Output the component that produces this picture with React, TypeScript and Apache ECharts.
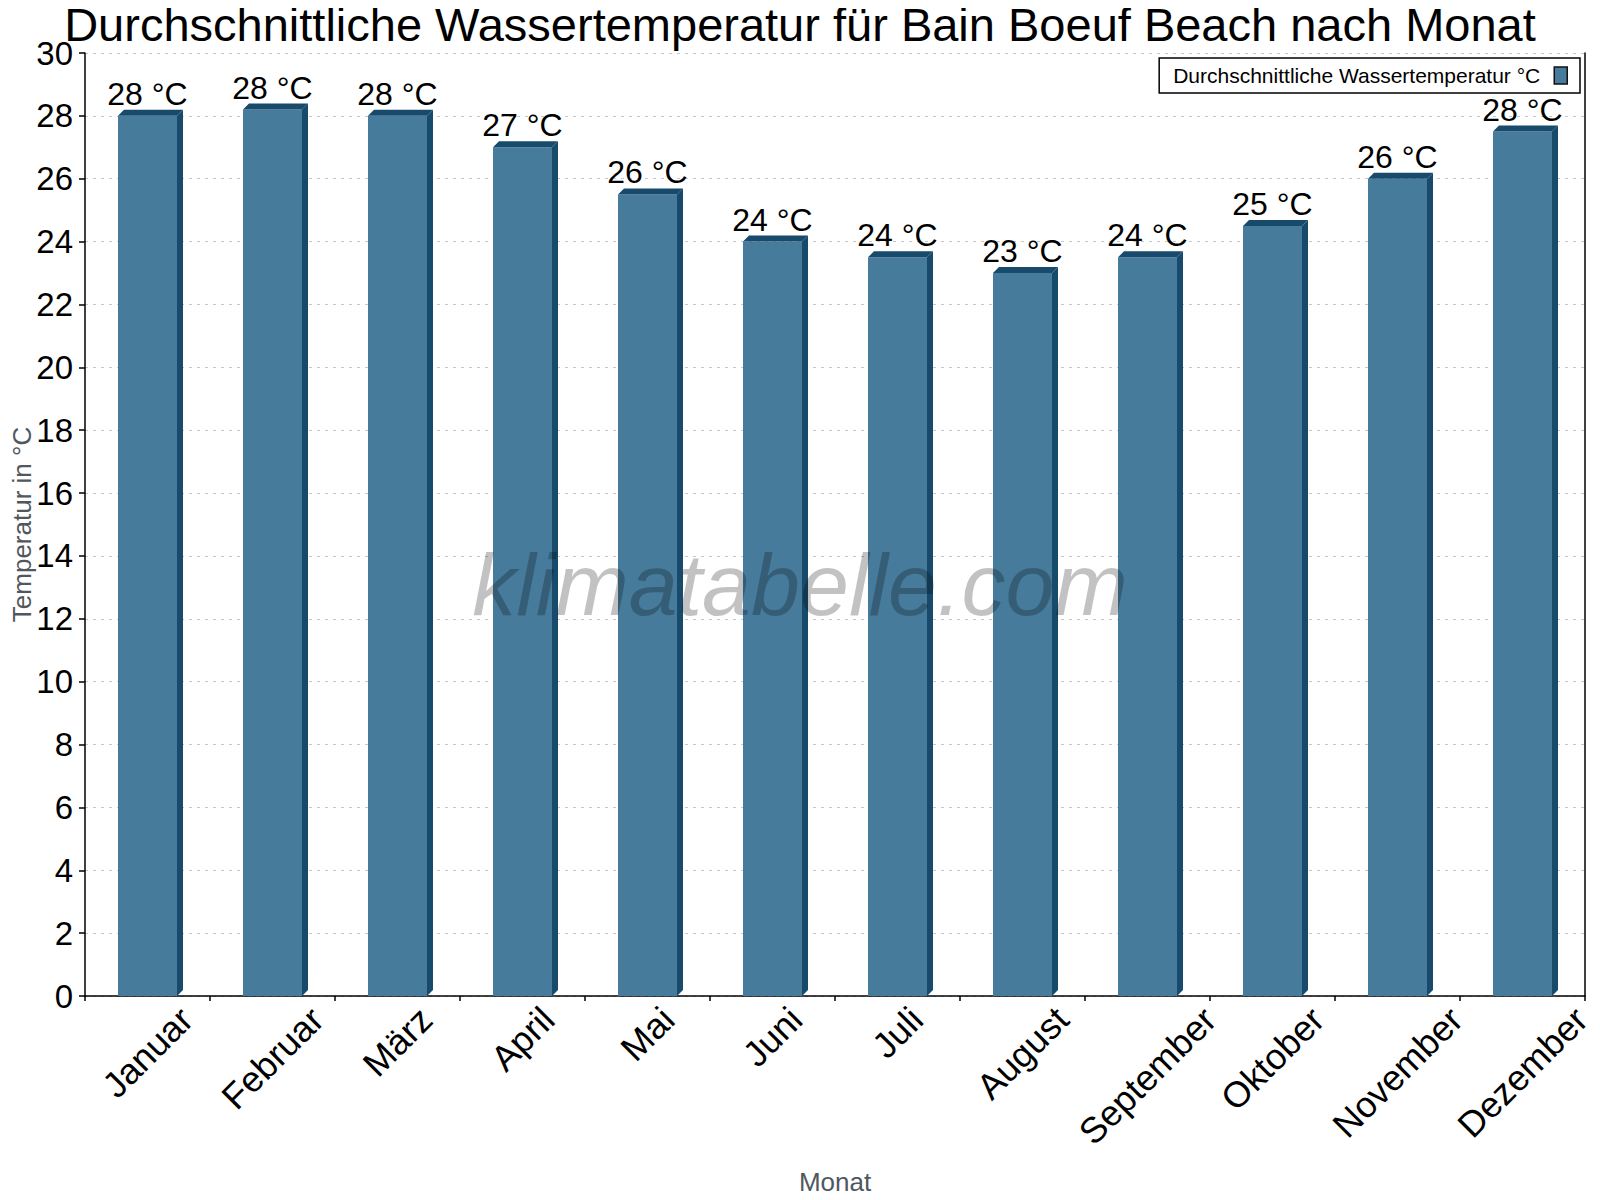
import React, { useEffect, useRef } from 'react';
import * as echarts from 'echarts';

const months = ['Januar', 'Februar', 'März', 'April', 'Mai', 'Juni', 'Juli', 'August', 'September', 'Oktober', 'November', 'Dezember'];
const waterTemp = [28, 28.2, 28, 27, 25.5, 24, 23.5, 23, 23.5, 24.5, 26, 27.5];
const yTicks = { min: 0, max: 30, interval: 2 };

const FONT = '"Liberation Sans", Arial, sans-serif';
const FRONT = '#467b9c';
const DARK = '#184a6c';
const DEPTH = 6;
const LABEL_SIZE = 36;

// Breite eines Monatsnamens, damit die gedrehten Labels oben bündig stehen
const measure = (txt: string) => {
  const ctx = document.createElement('canvas').getContext('2d');
  if (!ctx) return txt.length * LABEL_SIZE * 0.55;
  ctx.font = `${LABEL_SIZE}px ${FONT}`;
  return ctx.measureText(txt).width;
};

const App: React.FC = () => {
  const chartRef = useRef<HTMLDivElement | null>(null);

  useEffect(() => {
    if (!chartRef.current) return;
    const chart = echarts.init(chartRef.current, undefined, { renderer: 'svg' });

    const renderItem = (params: any, api: any) => {
      const idx = api.value(0);
      const val = api.value(1);
      const top = api.coord([idx, val]);
      const base = api.coord([idx, 0]);
      const w = api.size([1, 0])[0] * 0.472;
      const l = top[0] - w / 2;
      const r = top[0] + w / 2;
      const t = top[1];
      const b = base[1];
      return {
        type: 'group',
        children: [
          { type: 'rect', shape: { x: l, y: t, width: w, height: b - t }, style: { fill: FRONT } },
          {
            type: 'polygon',
            shape: { points: [[r, t], [r + DEPTH, t - DEPTH], [r + DEPTH, b - DEPTH], [r, b]] },
            style: { fill: DARK },
          },
          {
            type: 'polygon',
            shape: { points: [[l, t], [l + DEPTH, t - DEPTH], [r + DEPTH, t - DEPTH], [r, t]] },
            style: { fill: DARK },
          },
          {
            type: 'text',
            x: top[0],
            y: t - DEPTH,
            style: {
              text: `${Math.round(val)} °C`,
              fill: '#000',
              font: `32px ${FONT}`,
              textAlign: 'center',
              textVerticalAlign: 'bottom',
            },
          },
        ],
      };
    };

    const option = {
      animation: false,
      backgroundColor: '#fff',
      textStyle: { fontFamily: FONT },
      title: {
        text: 'Durchschnittliche Wassertemperatur für Bain Boeuf Beach nach Monat',
        left: 'center',
        top: 0,
        padding: 0,
        textStyle: { fontSize: 47, fontWeight: 'normal', color: '#000', fontFamily: FONT, lineHeight: 48 },
      },
      legend: {
        right: 20,
        top: 58,
        align: 'right',
        orient: 'vertical',
        borderColor: '#000',
        borderWidth: 1.5,
        padding: [7, 12, 7, 14],
        itemWidth: 13,
        itemHeight: 17,
        textStyle: { fontSize: 21, color: '#000', fontFamily: FONT, padding: [0, 9, 0, 0] },
        data: [
          {
            name: 'Durchschnittliche Wassertemperatur °C',
            icon: 'rect',
            itemStyle: { color: FRONT, borderColor: '#111', borderWidth: 1.5 },
          },
        ],
      },
      graphic: [
        {
          type: 'text',
          left: 'center',
          top: 540,
          z: 100,
          silent: true,
          style: {
            text: 'klimatabelle.com',
            font: `italic 88px ${FONT}`,
            fill: 'rgba(0,0,0,0.24)',
          },
        },
      ],
      grid: { left: 85, right: 15, top: 53, bottom: 204, containLabel: false, outerBoundsMode: 'none' },
      xAxis: {
        type: 'category',
        // pro Monat: mittig unter der Kategorie, Oberkante bündig (Padding im gedrehten System)
        data: months.map((m) => {
          const w = measure(m);
          return {
            value: m,
            textStyle: {
              align: 'center',
              verticalAlign: 'top',
              fontSize: LABEL_SIZE,
              color: '#000',
              fontFamily: FONT,
              padding: [w / 4, LABEL_SIZE + w / 2, 0, 0],
            },
          };
        }),
        name: 'Monat',
        nameLocation: 'middle',
        nameGap: 173,
        nameMoveOverlap: false,
        nameTextStyle: { fontSize: 26, color: '#50575e', fontFamily: FONT, verticalAlign: 'top' },
        axisLine: { lineStyle: { color: '#000', width: 1.5 } },
        axisTick: { show: true, length: 5, lineStyle: { color: '#000', width: 1.5 } },
        axisLabel: {
          rotate: 45,
          margin: -8,
          fontSize: LABEL_SIZE,
          color: '#000',
          fontFamily: FONT,
          interval: 0,
          hideOverlap: false,
        },
        splitLine: { show: false },
      },
      yAxis: [
        {
          type: 'value',
          min: yTicks.min,
          max: yTicks.max,
          interval: yTicks.interval,
          name: 'Temperatur in °C',
          nameLocation: 'middle',
          nameGap: 50,
          nameMoveOverlap: false,
          nameTextStyle: { fontSize: 26, color: '#50575e', fontFamily: FONT },
          axisLine: { show: true, lineStyle: { color: '#000', width: 1.5 } },
          axisTick: { show: true, length: 6, lineStyle: { color: '#000', width: 1.5 } },
          axisLabel: { fontSize: 33, color: '#000', margin: 12, fontFamily: FONT },
          splitLine: { show: true, lineStyle: { color: '#c8c8c8', type: [3, 5], width: 1 } },
        },
        {
          type: 'value',
          position: 'right',
          min: yTicks.min,
          max: yTicks.max,
          interval: yTicks.interval,
          axisLine: { show: true, lineStyle: { color: '#000', width: 1.5 } },
          axisTick: { show: false },
          axisLabel: { show: false },
          splitLine: { show: false },
        },
      ],
      series: [
        {
          name: 'Durchschnittliche Wassertemperatur °C',
          type: 'custom',
          renderItem,
          itemStyle: { color: FRONT },
          encode: { x: 0, y: 1 },
          data: waterTemp.map((v, i) => [i, v]),
        },
      ],
    };

    chart.setOption(option);
    return () => chart.dispose();
  }, []);

  return <div ref={chartRef} style={{ width: '1600px', height: '1200px', margin: '-8px' }} />;
};

export default App;
